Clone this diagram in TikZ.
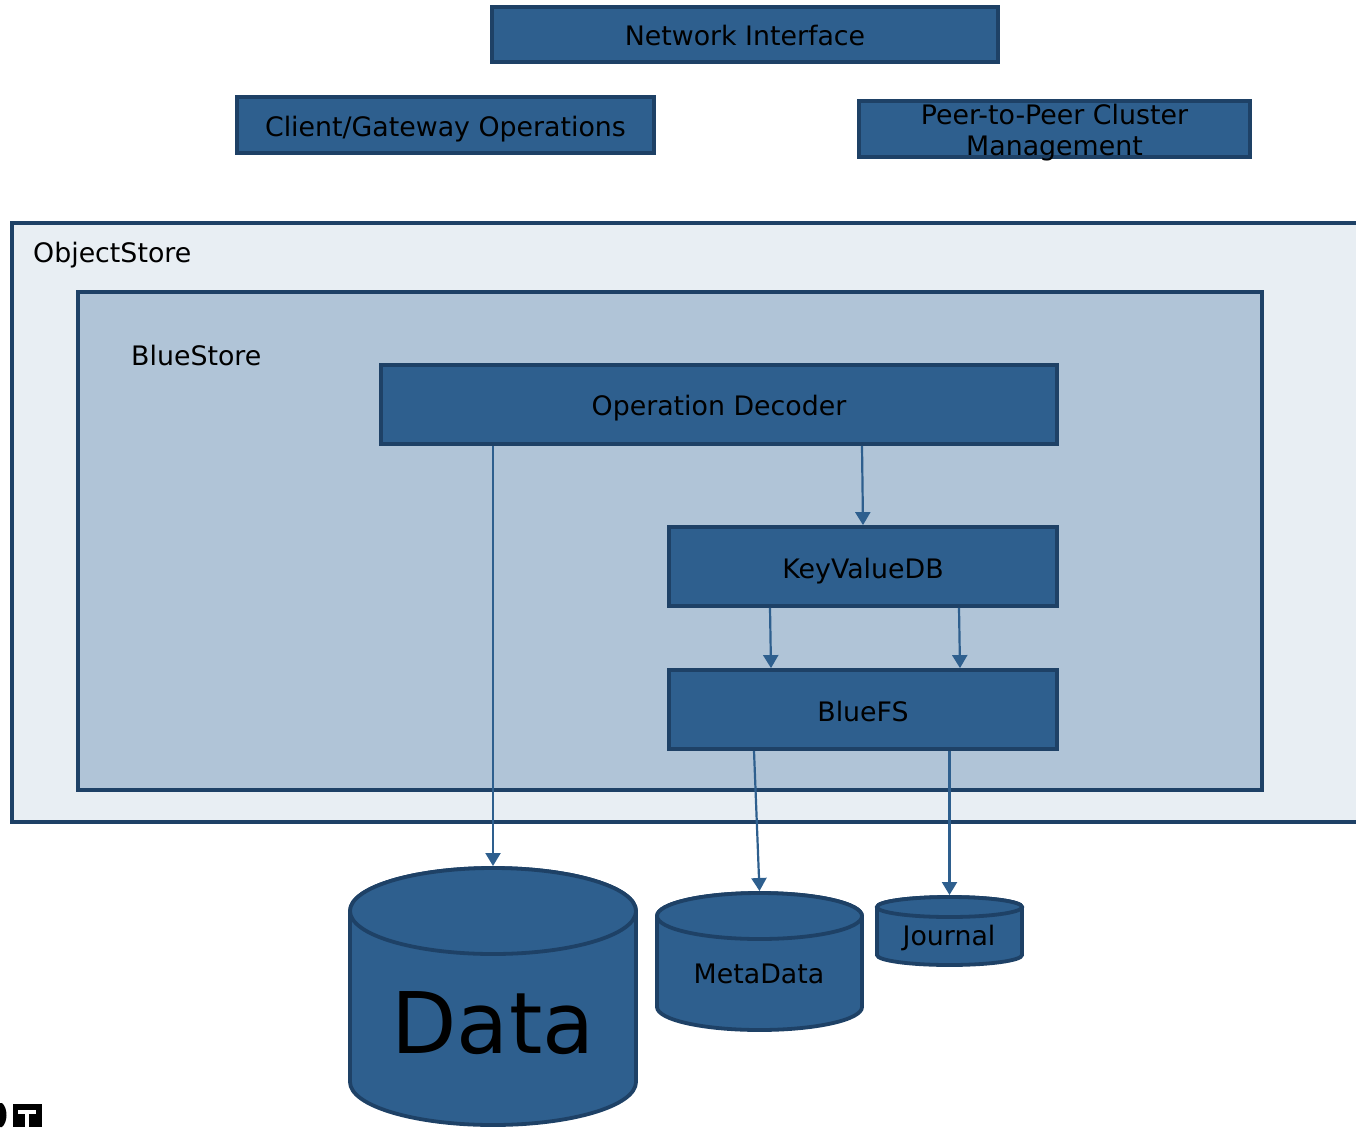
\documentclass[tikz,border=0pt]{standalone}
\usepackage{fontspec}
\setmainfont{DejaVu Sans}
\usetikzlibrary{arrows.meta}
\definecolor{boxfill}{RGB}{46,95,142}
\definecolor{boxline}{RGB}{30,65,102}
\definecolor{osfill}{RGB}{232,238,243}
\definecolor{bsfill}{RGB}{176,196,215}
\definecolor{arrcol}{RGB}{46,95,142}
\newcommand\mycyl[6]{% xl xr ytop ybot ry name
  \filldraw[cylstyle] (#1,#3) -- (#1,#4)
    arc[start angle=180,end angle=0,x radius={(#2-#1)/2},y radius=#5] -- (#2,#3)
    arc[start angle=0,end angle=-180,x radius={(#2-#1)/2},y radius=#5] -- cycle;
  \draw[cylstyle] ({(#1+#2)/2},#3) ellipse[x radius={(#2-#1)/2},y radius=#5];
  \coordinate (#6) at ({(#1+#2)/2},{#3-#5-2});
}
\begin{document}
\begin{tikzpicture}[x=1pt,y=-1pt,
  txt/.style={font=\fontsize{26.8}{31}\selectfont,inner sep=0pt,anchor=base},
  bluebox/.style={draw=boxline,fill=boxfill,line width=3.8pt,inner sep=0pt},
  cylstyle/.style={draw=boxline,fill=boxfill,line width=3.8pt},
  container/.style={draw=boxline,line width=3.8pt,inner sep=0pt},
  arr/.style={draw=arrcol,line width=2.2pt,-{Triangle[width=15pt,length=13pt]}}]
\useasboundingbox (0,0) rectangle (1356,1127);

\node[bluebox,minimum width=506pt,minimum height=55pt] (net) at (745,34.5) {};
\node[txt] (nettxt) at (745,45) {Network Interface};
\node[bluebox,minimum width=417pt,minimum height=56pt] (client) at (445.5,125) {};
\node[txt] (clienttxt) at (445.5,136) {Client/Gateway Operations};
\node[bluebox,minimum width=391pt,minimum height=56pt] (peer) at (1054.5,129) {};
\node[txt] (peertxt1) at (1054.5,124.5) {Peer-to-Peer Cluster};
\node[txt] (peertxt2) at (1054.5,155.5) {Management};

\node[container,fill=osfill,minimum width=1350pt,minimum height=599pt] (os) at (687,522.5) {};
\node[txt,anchor=base west] (oslabel) at (33,262) {ObjectStore};
\node[container,fill=bsfill,minimum width=1184pt,minimum height=498pt] (bs) at (670,541) {};
\node[txt,anchor=base west] (bslabel) at (131,365.5) {BlueStore};

\node[bluebox,minimum width=676pt,minimum height=79pt] (od) at (719,404.5) {};
\node[txt] (odtxt) at (719,415) {Operation Decoder};
\node[bluebox,minimum width=388pt,minimum height=79pt] (kv) at (863,566.5) {};
\node[txt] (kvtxt) at (863,578) {KeyValueDB};
\node[bluebox,minimum width=388pt,minimum height=79pt] (fs) at (863,709.5) {};
\node[txt] (fstxt) at (863,721.5) {BlueFS};

\mycyl{350}{636}{911}{1082}{43}{datatop}
\node[font=\fontsize{85}{90}\selectfont,inner sep=0pt,anchor=base] (data) at (493,1053) {Data};
\mycyl{657}{862}{916}{1007}{23}{metatop}
\node[txt] (meta) at (759,983.5) {MetaData};
\mycyl{877}{1022}{907}{955}{10}{jourtop}
\node[txt] (jour) at (949,945.5) {Journal};

\draw[arr] (od.south -| datatop) -- (datatop);
\draw[arr] ([xshift=143pt]od.south) -- ([xshift=0pt]kv.north);
\draw[arr] ([xshift=-93pt]kv.south) -- ([xshift=-92pt]fs.north);
\draw[arr] ([xshift=96pt]kv.south) -- ([xshift=97pt]fs.north);
\draw[arr] ([xshift=-109pt]fs.south) -- (metatop);
\draw[arr] (fs.south -| jourtop) -- (jourtop);

% cropped mark at bottom-left corner
\fill[black] (0,1103) -- (2,1103) .. controls (8,1108) and (8,1122) .. (2,1127) -- (0,1127) -- cycle;
\fill[black] (13,1104) rectangle (42,1127);
\fill[white] (18,1110) rectangle (36,1114);
\fill[white] (25,1110) rectangle (29,1127);
\end{tikzpicture}
\end{document}
